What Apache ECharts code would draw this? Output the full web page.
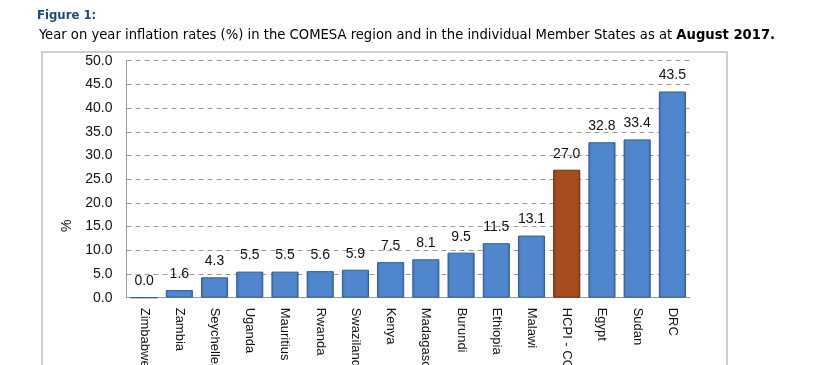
<!DOCTYPE html>
<html>
<head>
<meta charset="utf-8">
<script src="https://cdn.jsdelivr.net/npm/echarts@6/dist/echarts.min.js"></script>
<style>html,body{margin:0;padding:0;background:#fff;}#c{width:820px;height:365px;}</style>
</head>
<body>
<div id="c"></div>
<script>
var categories = ['Zimbabwe','Zambia','Seychelles','Uganda','Mauritius','Rwanda','Swaziland','Kenya','Madagascar','Burundi','Ethiopia','Malawi','HCPI - COMESA','Egypt','Sudan','DRC'];
var values = [0.0, 1.6, 4.3, 5.5, 5.5, 5.6, 5.9, 7.5, 8.1, 9.5, 11.5, 13.1, 27.0, 32.8, 33.4, 43.5];
var highlighted = ['HCPI - COMESA'];

var chart = echarts.init(document.getElementById('c'), null, {renderer: 'canvas'});

function grad(edge, mid) {
  return new echarts.graphic.LinearGradient(0, 0, 1, 0, [
    {offset: 0, color: edge}, {offset: 0.12, color: mid}, {offset: 0.88, color: mid}, {offset: 1, color: edge}
  ]);
}

var data = categories.map(function (c, i) {
  var hl = highlighted.indexOf(c) >= 0;
  return {
    value: values[i],
    itemStyle: hl ? {color: grad('#8a3a14', '#a64c1e'), borderColor: '#6e2e0e', borderWidth: 1}
                  : {color: grad('#3d6eae', '#4f86cc'), borderColor: '#2f5d99', borderWidth: 1}
  };
});

chart.setOption({
  animation: false,
  backgroundColor: '#fff',
  grid: {left: 126.5, right: 130, top: 60.7, bottom: 67.3, containLabel: false, outerBoundsMode: 'none'},
  xAxis: {
    type: 'category',
    data: categories,
    axisLine: {lineStyle: {color: '#999', width: 1}},
    axisTick: {show: false},
    axisLabel: {rotate: -90, margin: 10, interval: 0, fontSize: 13, color: '#111', fontFamily: 'Liberation Sans', hideOverlap: false}
  },
  yAxis: {
    type: 'value',
    min: 0, max: 50, interval: 5,
    axisLine: {show: true, lineStyle: {color: '#999'}},
    axisTick: {show: false},
    splitLine: {lineStyle: {type: [5, 4], color: '#9a9a9a', width: 1}},
    axisLabel: {margin: 14, fontSize: 14, color: '#111', fontFamily: 'Liberation Sans',
      formatter: function (v) { return v.toFixed(1); }}
  },
  series: [{
    type: 'bar',
    data: data,
    barCategoryGap: '23%',
    label: {show: true, position: 'top', distance: 9, fontSize: 14, color: '#111', fontFamily: 'Liberation Sans',
      formatter: function (p) { return p.value.toFixed(1); }}
  }],
  graphic: [
    {type: 'rect', shape: {x: 42, y: 52, width: 685, height: 400}, style: {fill: 'none', stroke: '#c0c0c0', lineWidth: 1.5}, z: -1},
    {type: 'text', x: 37, y: 9, style: {text: 'Figure 1:', font: 'bold 13px "DejaVu Sans Condensed", "DejaVu Sans"', fill: '#1f497d'}},
    {type: 'text', x: 39, y: 28, style: {
      text: '{n|Year on year inflation rates (%) in the COMESA region and in the individual Member States as at }{b|August 2017.}',
      rich: {
        n: {font: '14.65px "DejaVu Sans Condensed", "DejaVu Sans"', fill: '#000'},
        b: {font: 'bold 14.65px "DejaVu Sans Condensed", "DejaVu Sans"', fill: '#000'}
      }
    }},
    {type: 'text', x: 60, y: 232, rotation: Math.PI / 2, style: {text: '%', font: '14px "Liberation Sans"', fill: '#111'}}
  ]
});
</script>
</body>
</html>
